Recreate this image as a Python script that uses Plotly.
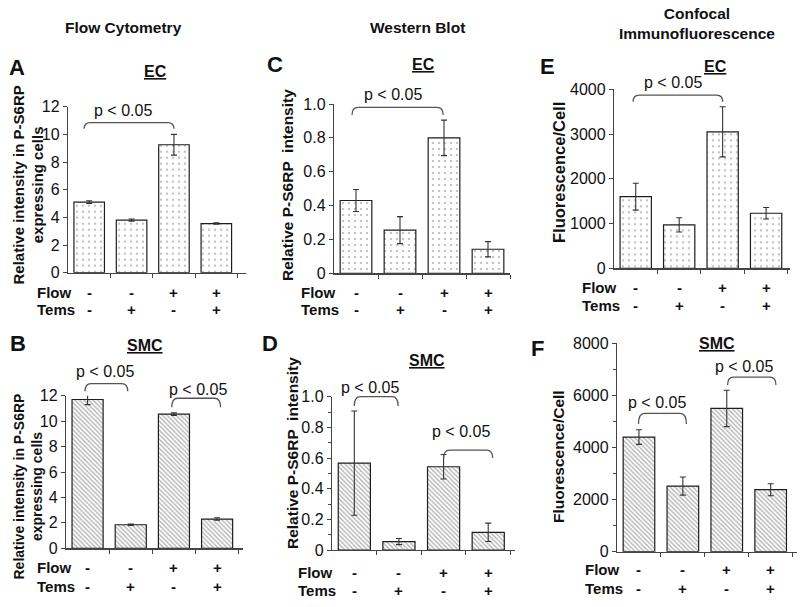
import plotly.graph_objects as go

# ---------------- data ----------------
conditions = [0, 1, 2, 3]
flow_signs = ["-", "-", "+", "+"]
tems_signs = ["-", "+", "-", "+"]

ec_flow_cyt = [5.1, 3.8, 9.25, 3.55]
ec_flow_cyt_err = [0.1, 0.08, 0.75, 0.05]
smc_flow_cyt = [11.7, 1.85, 10.55, 2.3]
smc_flow_cyt_err = [0.4, 0.05, 0.1, 0.1]

ec_western = [0.43, 0.255, 0.80, 0.142]
ec_western_err = [0.065, 0.08, 0.105, 0.045]
smc_western = [0.567, 0.055, 0.543, 0.115]
smc_western_err = [0.34, 0.02, 0.08, 0.06]

ec_confocal = [1600, 970, 3050, 1230]
ec_confocal_err = [300, 160, 560, 130]
smc_confocal = [4400, 2520, 5500, 2380]
smc_confocal_err = [280, 350, 700, 230]

ticks_flow = [0, 2, 4, 6, 8, 10, 12]
ticks_western = [0, 0.2, 0.4, 0.6, 0.8, 1.0]
ticks_western_text = ["0", "0.2", "0.4", "0.6", "0.8", "1.0"]
ticks_ec_conf = [0, 1000, 2000, 3000, 4000]
ticks_smc_conf = [0, 2000, 4000, 6000, 8000]

# significance brackets: (from x, to x, top y, end y, label x, label y)
brackets_A = [(-0.12, 2.0, 10.85, 10.4, 0.8, 11.75)]
brackets_C = [(-0.09, 1.98, 0.98, 0.935, 0.84, 1.055)]
brackets_E = [(-0.06, 2.0, 3870, 3720, 0.86, 4150)]
brackets_B = [(-0.06, 0.93, 12.95, 12.35, 0.4, 13.9),
              (1.95, 3.08, 11.8, 11.1, 2.55, 12.5)]
brackets_D = [(0.0, 0.98, 1.0, 0.94, 0.35, 1.06),
              (2.0, 3.1, 0.652, 0.60, 2.38, 0.77)]
brackets_F = [(-0.01, 1.08, 5310, 4900, 0.42, 5710),
              (2.02, 3.12, 6700, 6400, 2.39, 7100)]

# ---------------- layout helpers ----------------
W, H = 800, 607
FONT = "Liberation Sans, Arial, sans-serif"


def fx(px):
    return px / W


def fy(py):
    return 1 - py / H


def data_px_x(p, v):
    x0, x1, _, _ = p["dom"]
    r0, r1 = p["xr"]
    return x0 + (v - r0) / (r1 - r0) * (x1 - x0)


def data_px_y(p, v):
    _, _, yb, yt = p["dom"]
    r0, r1 = p["yr"]
    return yb - (v - r0) / (r1 - r0) * (yb - yt)


EC_PATTERN = dict(shape=".", fgcolor="#8a8a8a", bgcolor="white", size=6, solidity=0.14)
SMC_PATTERN = dict(shape="\\", fgcolor="#666666", bgcolor="white", size=3.2, solidity=0.42)

panels = [
    dict(letter="A", cell="EC", y=ec_flow_cyt, err=ec_flow_cyt_err, pat=EC_PATTERN,
         dom=(68, 246, 272.7, 106.7), xr=[-0.5, 3.7], yr=[0, 12],
         tv=ticks_flow, tt=[str(v) for v in ticks_flow], minor=None,
         br=brackets_A, rows=(292, 309), lab_x=35,
         letter_pos=(17, 68), cell_pos=(155, 72),
         ytitle="<b>Relative intensity in P-S6RP<br>expressing cells</b>", ytitle_pos=(27.5, 185), ytsize=15),
    dict(letter="C", cell="EC", y=ec_western, err=ec_western_err, pat=EC_PATTERN,
         dom=(334, 510, 273.3, 104), xr=[-0.5, 3.5], yr=[0, 1.0],
         tv=ticks_western, tt=ticks_western_text, minor=None,
         br=brackets_C, rows=(292, 309), lab_x=299,
         letter_pos=(275, 65), cell_pos=(423, 65),
         ytitle="<b>Relative P-S6RP  intensity</b>", ytitle_pos=(287, 185), ytsize=15.5),
    dict(letter="E", cell="EC", y=ec_confocal, err=ec_confocal_err, pat=EC_PATTERN,
         dom=(614, 790, 268.3, 89.3), xr=[-0.5, 3.55], yr=[0, 4000],
         tv=ticks_ec_conf, tt=[str(v) for v in ticks_ec_conf], minor=None,
         br=brackets_E, rows=(287, 305), lab_x=580,
         letter_pos=(547, 66), cell_pos=(715, 66),
         ytitle="<b>Fluorescence/Cell</b>", ytitle_pos=(559, 173), ytsize=16.5),
    dict(letter="B", cell="SMC", y=smc_flow_cyt, err=smc_flow_cyt_err, pat=SMC_PATTERN,
         dom=(66, 243, 548.3, 395.7), xr=[-0.5, 3.6], yr=[0, 12],
         tv=ticks_flow, tt=[str(v) for v in ticks_flow], minor=None,
         br=brackets_B, rows=(567, 586), lab_x=35,
         letter_pos=(18, 343), cell_pos=(145, 345),
         ytitle="<b>Relative intensity in P-S6RP<br>expressing cells</b>", ytitle_pos=(27.5, 487), ytsize=14),
    dict(letter="D", cell="SMC", y=smc_western, err=smc_western_err, pat=SMC_PATTERN,
         dom=(332, 515, 550, 396.7), xr=[-0.5, 3.6], yr=[0, 1.0],
         tv=ticks_western, tt=ticks_western_text, minor=0.1,
         br=brackets_D, rows=(572, 590), lab_x=296,
         letter_pos=(270, 343), cell_pos=(427, 360),
         ytitle="<b>Relative P-S6RP  intensity</b>", ytitle_pos=(292, 453), ytsize=15.5),
    dict(letter="F", cell="SMC", y=smc_confocal, err=smc_confocal_err, pat=SMC_PATTERN,
         dom=(617, 797, 551.7, 343.3), xr=[-0.5, 3.6], yr=[0, 8000],
         tv=ticks_smc_conf, tt=[str(v) for v in ticks_smc_conf], minor=1000,
         br=brackets_F, rows=(569, 588), lab_x=583,
         letter_pos=(537, 348), cell_pos=(717, 343),
         ytitle="<b>Fluorescence/Cell</b>", ytitle_pos=(558, 457), ytsize=15.5),
]

fig = go.Figure()
annotations = []
shapes = []
layout_axes = {}

for i, p in enumerate(panels, start=1):
    xa = "x" if i == 1 else f"x{i}"
    ya = "y" if i == 1 else f"y{i}"
    x0, x1, yb, yt = p["dom"]

    fig.add_trace(go.Bar(
        x=conditions, y=p["y"], width=0.72, xaxis=xa, yaxis=ya,
        marker=dict(color="white", line=dict(color="#1e1e1e", width=1.2), pattern=p["pat"]),
        error_y=dict(type="data", array=p["err"], visible=True, color="#333333",
                     thickness=1.1, width=3),
        showlegend=False, hoverinfo="skip",
    ))

    # significance brackets, placed from data values (converted to page fractions so
    # they are not clipped when they rise above the axis range)
    for (bx0, bx1, btop, bend, tx, ty) in p["br"]:
        X0, X1 = data_px_x(p, bx0), data_px_x(p, bx1)
        YT, YE = data_px_y(p, btop), data_px_y(p, bend)
        r = 6
        path = (f"M {fx(X0)},{fy(YE)} Q {fx(X0)},{fy(YT)} {fx(X0 + r)},{fy(YT)} "
                f"L {fx(X1 - r)},{fy(YT)} Q {fx(X1)},{fy(YT)} {fx(X1)},{fy(YE)}")
        shapes.append(dict(type="path", path=path, xref="paper", yref="paper",
                           line=dict(color="#555555", width=1.3)))
        annotations.append(dict(text="p < 0.05", x=tx, y=fy(data_px_y(p, ty)), xref=xa, yref="paper",
                                xanchor="center", yanchor="middle", showarrow=False,
                                font=dict(family=FONT, size=16, color="#111")))

    xkey = "xaxis" if i == 1 else f"xaxis{i}"
    ykey = "yaxis" if i == 1 else f"yaxis{i}"
    layout_axes[xkey] = dict(
        domain=[fx(x0), fx(x1)], range=p["xr"], anchor=ya, automargin=False,
        showline=True, linecolor="#444", linewidth=1.2, showgrid=False, zeroline=False,
        tickmode="array", tickvals=[0.5, 1.5, 2.5, 3.5], showticklabels=False,
        ticks="outside", ticklen=4, tickcolor="#444",
    )
    yax = dict(
        domain=[fy(yb), fy(yt)], range=p["yr"], anchor=xa, automargin=False,
        showline=True, linecolor="#444", linewidth=1.2, showgrid=False, zeroline=False,
        tickmode="array", tickvals=p["tv"], ticktext=p["tt"],
        ticks="outside", ticklen=4, tickcolor="#444",
        tickfont=dict(family=FONT, size=16, color="#111"),
    )
    if p["minor"]:
        yax["minor"] = dict(dtick=p["minor"], ticks="outside", ticklen=3, tickcolor="#444", showgrid=False)
    layout_axes[ykey] = yax

    # Flow / Tems rows
    for label, signs, rowy in (("Flow", flow_signs, p["rows"][0]), ("Tems", tems_signs, p["rows"][1])):
        annotations.append(dict(text=f"<b>{label}</b>", x=fx(p["lab_x"]), y=fy(rowy),
                                xref="paper", yref="paper", xanchor="left", yanchor="middle",
                                showarrow=False, font=dict(family=FONT, size=15, color="#111")))
        for c, s in zip(conditions, signs):
            annotations.append(dict(text=f"<b>{s}</b>", x=c, y=fy(rowy), xref=xa, yref="paper",
                                    xanchor="center", yanchor="middle", showarrow=False,
                                    font=dict(family=FONT, size=15, color="#111")))

    annotations.append(dict(text=f"<b>{p['letter']}</b>", x=fx(p["letter_pos"][0]), y=fy(p["letter_pos"][1]),
                            xref="paper", yref="paper", xanchor="center", yanchor="middle",
                            showarrow=False, font=dict(family=FONT, size=22, color="#111")))
    annotations.append(dict(text=f"<b><u>{p['cell']}</u></b>", x=fx(p["cell_pos"][0]), y=fy(p["cell_pos"][1]),
                            xref="paper", yref="paper", xanchor="center", yanchor="middle",
                            showarrow=False, font=dict(family=FONT, size=16, color="#111")))
    annotations.append(dict(text=p["ytitle"], x=fx(p["ytitle_pos"][0]), y=fy(p["ytitle_pos"][1]),
                            xref="paper", yref="paper", xanchor="center", yanchor="middle",
                            textangle=-90, showarrow=False,
                            font=dict(family=FONT, size=p["ytsize"], color="#111")))

# column headers
for txt, (hx, hy) in (("<b>Flow Cytometry</b>", (123, 28)),
                      ("<b>Western Blot</b>", (417, 28)),
                      ("<b>Confocal<br>Immunofluorescence</b>", (697, 23))):
    annotations.append(dict(text=txt, x=fx(hx), y=fy(hy), xref="paper", yref="paper",
                            xanchor="center", yanchor="middle", showarrow=False,
                            font=dict(family=FONT, size=15.5, color="#111")))

fig.update_layout(
    width=W, height=H, autosize=False, margin=dict(l=0, r=0, t=0, b=0, pad=0, autoexpand=False),
    paper_bgcolor="white", plot_bgcolor="white",
    font=dict(family=FONT, color="#111"),
    annotations=annotations, shapes=shapes,
    **layout_axes,
)

fig.write_html("out.html", config={"displayModeBar": False, "staticPlot": True},
               post_script="document.body.style.margin='0px';document.body.style.overflow='hidden';")
